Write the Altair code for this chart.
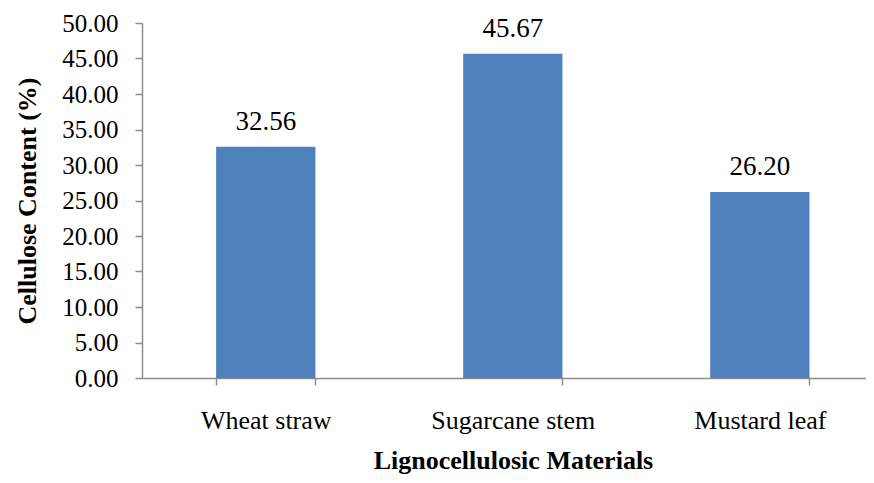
import altair as alt
import pandas as pd

categories = ["Wheat straw", "Sugarcane stem", "Mustard leaf"]
values = [32.56, 45.67, 26.20]
y_ticks = [0, 5, 10, 15, 20, 25, 30, 35, 40, 45, 50]

df = pd.DataFrame({"material": categories, "cellulose": values})

FONT = "Liberation Serif"
AXIS_GRAY = "#8c8c8c"

x_scale = alt.Scale(range=[0, 741.6], paddingInner=0.598, paddingOuter=0.3)
y_scale = alt.Scale(domain=[0, 50], nice=False, zero=True)

x_enc = alt.X(
    "material:N",
    sort=categories,
    scale=x_scale,
    axis=alt.Axis(
        title="Lignocellulosic Materials",
        titleFont=FONT,
        titleFontSize=26,
        titleFontWeight="bold",
        titleColor="black",
        titleBaseline="alphabetic",
        titleY=90,
        titleX=371,
        labelFont=FONT,
        labelFontSize=26,
        labelColor="black",
        labelAngle=0,
        labelBaseline="alphabetic",
        labelPadding=43,
        labelOverlap=False,
        tickBand="extent",
        tickSize=7,
        tickColor=AXIS_GRAY,
        domainColor=AXIS_GRAY,
        domainWidth=1.5,
        tickWidth=1.5,
        grid=False,
    ),
)

y_enc = alt.Y(
    "cellulose:Q",
    scale=y_scale,
    axis=alt.Axis(
        title="Cellulose Content  (%)",
        titleFont=FONT,
        titleFontSize=26,
        titleFontWeight="bold",
        titleColor="black",
        titleAngle=-90,
        titleBaseline="alphabetic",
        titleAlign="center",
        titleX=-107,
        titleY=177.5,
        values=y_ticks,
        tickCount=11,
        format=".2f",
        labelFont=FONT,
        labelFontSize=25,
        labelColor="black",
        labelPadding=17,
        labelOverlap=False,
        labelBound=False,
        labelFlush=False,
        tickSize=7,
        tickColor=AXIS_GRAY,
        domainColor=AXIS_GRAY,
        domainWidth=1.5,
        tickWidth=1.5,
        grid=False,
    ),
)

base = alt.Chart(df).encode(x=x_enc, y=y_enc)

bars = base.mark_bar(color="#4F81BD")

labels = base.mark_text(
    font=FONT, fontSize=27, baseline="alphabetic", dy=-17, color="black"
).encode(text=alt.Text("cellulose:Q", format=".2f"))

chart = alt.layer(bars, labels).properties(
    width=724,
    height=355,
    autosize=alt.AutoSizeParams(type="none"),
    padding={"left": 134, "top": 15, "right": 0, "bottom": 97},
).configure_view(stroke=None).configure_axis(
    labelFont=FONT, titleFont=FONT
).configure_text(font=FONT)

chart.save("out.html", embed_options={"renderer": "svg", "actions": False})
